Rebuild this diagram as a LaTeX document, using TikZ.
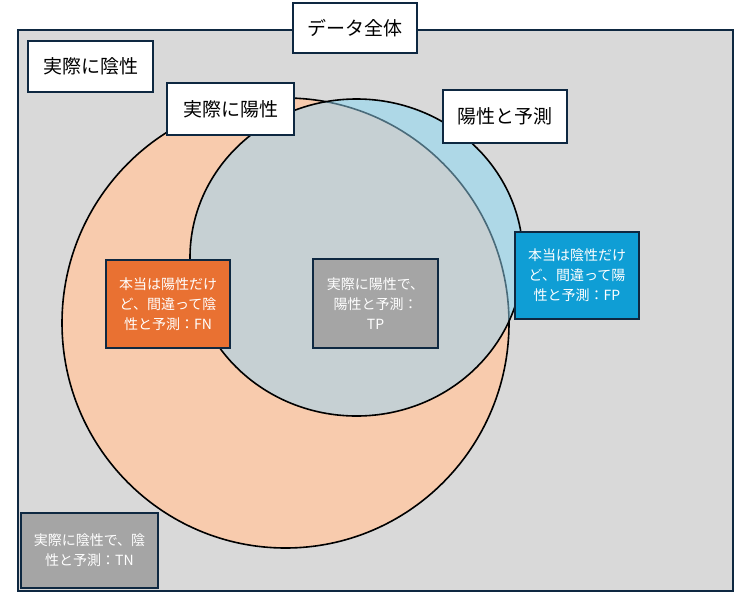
\documentclass[tikz,border=0pt]{standalone}
\usepackage{fontspec}
\setmainfont{Noto Sans CJK JP}
\begin{document}
\begin{tikzpicture}[x=1pt,y=-1pt,
  navy/.style={draw=navyc, line width=2pt},
  labelbox/.style={navy, fill=white, text=black, inner sep=0pt, font=\fontsize{19}{23}\selectfont},
  infobox/.style={navy, text=white, inner sep=0pt, align=center, font=\fontsize{14}{20}\selectfont},
]
\definecolor{navyc}{HTML}{0E2841}
\definecolor{bggray}{HTML}{D9D9D9}
\definecolor{salmon}{HTML}{F8CBAD}
\definecolor{lblue}{HTML}{AED8E7}
\definecolor{overlap}{HTML}{C6D0D3}
\definecolor{slate}{HTML}{4A6B7A}
\definecolor{orangebox}{HTML}{E97132}
\definecolor{graybox}{HTML}{A5A5A5}
\definecolor{bluebox}{HTML}{0F9ED5}
\useasboundingbox (0,0) rectangle (746,603);
% whole data
\draw[navy, line width=2.5pt, fill=bggray] (18,30) rectangle (733,591);
% actual positive (big) ellipse
\draw[fill=salmon, line width=1.6pt] (285.5,323) ellipse [x radius=223.5, y radius=225];
% predicted positive (small) ellipse
\fill[lblue] (356.5,257.5) ellipse [x radius=166.5, y radius=158.5];
\begin{scope}
  \clip (285.5,323) ellipse [x radius=223.5, y radius=225];
  \fill[overlap] (356.5,257.5) ellipse [x radius=166.5, y radius=158.5];
\end{scope}
\begin{scope}
  \clip (356.5,257.5) ellipse [x radius=166.5, y radius=158.5];
  \draw[slate, line width=1.6pt] (285.5,323) ellipse [x radius=223.5, y radius=225];
\end{scope}
\draw[line width=1.6pt] (356.5,257.5) ellipse [x radius=166.5, y radius=158.5];
% labels
\node[labelbox, minimum width=124, minimum height=50] (all) at (355,28) {データ全体};
\node[labelbox, minimum width=125, minimum height=51] (neg) at (90.5,66.5) {実際に陰性};
\node[labelbox, minimum width=127, minimum height=52] (pos) at (230.5,109) {実際に陽性};
\node[labelbox, minimum width=124, minimum height=53] (pred) at (505,116.5) {陽性と予測};
% info boxes
\node[infobox, fill=orangebox, minimum width=124, minimum height=88] (fn) at (168,304) {本当は陽性だけ\\ど、間違って陰\\性と予測：FN};
\node[infobox, fill=graybox, minimum width=125, minimum height=89] (tp) at (375.5,303.5) {実際に陽性で、\\陽性と予測：\\TP};
\node[infobox, fill=bluebox, minimum width=124, minimum height=87] (fp) at (577,275.5) {本当は陰性だけ\\ど、間違って陽\\性と予測：FP};
\node[infobox, fill=graybox, minimum width=137, minimum height=75] (tn) at (89.5,550.5) {実際に陰性で、陰\\性と予測：TN};
\end{tikzpicture}
\end{document}
